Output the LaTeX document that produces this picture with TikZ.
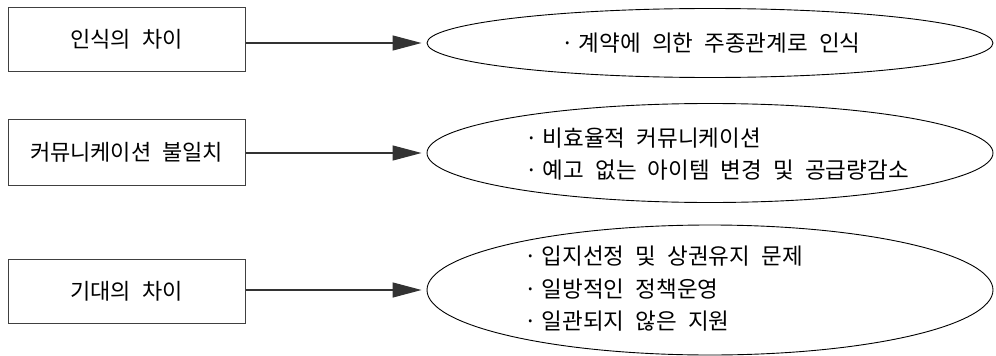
\documentclass[tikz,border=0pt]{standalone}
\usepackage{fontspec}
\usetikzlibrary{arrows.meta,shapes.geometric}
\newfontfamily\krbox[WordSpace=5]{Noto Sans CJK KR}
\newfontfamily\krell[WordSpace=2.2]{Noto Sans CJK KR}
\newcommand{\bul}{·\hspace{5pt}}
\begin{document}
\begin{tikzpicture}[x=1pt,y=-1pt,
  boxnode/.style={draw=black!75,line width=1pt,minimum width=237pt,minimum height=64pt,inner sep=0pt,font=\krbox\fontsize{22}{26}\selectfont},
  ellnode/.style={draw=black,line width=0.9pt,ellipse,inner sep=0pt},
  elltext/.style={inner sep=0pt,anchor=west,align=left,font=\krell\fontsize{22.5}{32.5}\selectfont},
  conn/.style={draw=black!80,line width=1.3pt,-{Triangle[length=29pt,width=15pt]},shorten >=5pt}]
\useasboundingbox (0,0) rectangle (996,356);
% left boxes
\node[boxnode] (b1) at (126.5,39) {인식의 차이};
\node[boxnode,minimum height=66pt] (b2) at (126.5,152) {커뮤니케이션 불일치};
\node[boxnode] (b3) at (126.5,291) {기대의 차이};
% ellipses
\node[ellnode,minimum width=566pt,minimum height=69pt] (e1) at (710,43) {};
\node[ellnode,minimum width=566pt,minimum height=99pt] (e2) at (710,153) {};
\node[ellnode,minimum width=566pt,minimum height=130pt] (e3) at (710,290) {};
% texts
\node[elltext] (t1) at (561,43) {\bul 계약에 의한 주종관계로 인식};
\node[elltext] (t2) at (525,154) {\bul 비효율적 커뮤니케이션\\\bul 예고 없는 아이템 변경 및 공급량감소};
\node[elltext] (t3) at (524,289) {\bul 입지선정 및 상권유지 문제\\\bul 일방적인 정책운영\\\bul 일관되지 않은 지원};
% connectors
\draw[conn] (b1.east |- e1.west) -- (e1.west);
\draw[conn] (b2.east |- e2.west) -- (e2.west);
\draw[conn] (b3.east |- e3.west) -- (e3.west);
\end{tikzpicture}
\end{document}
